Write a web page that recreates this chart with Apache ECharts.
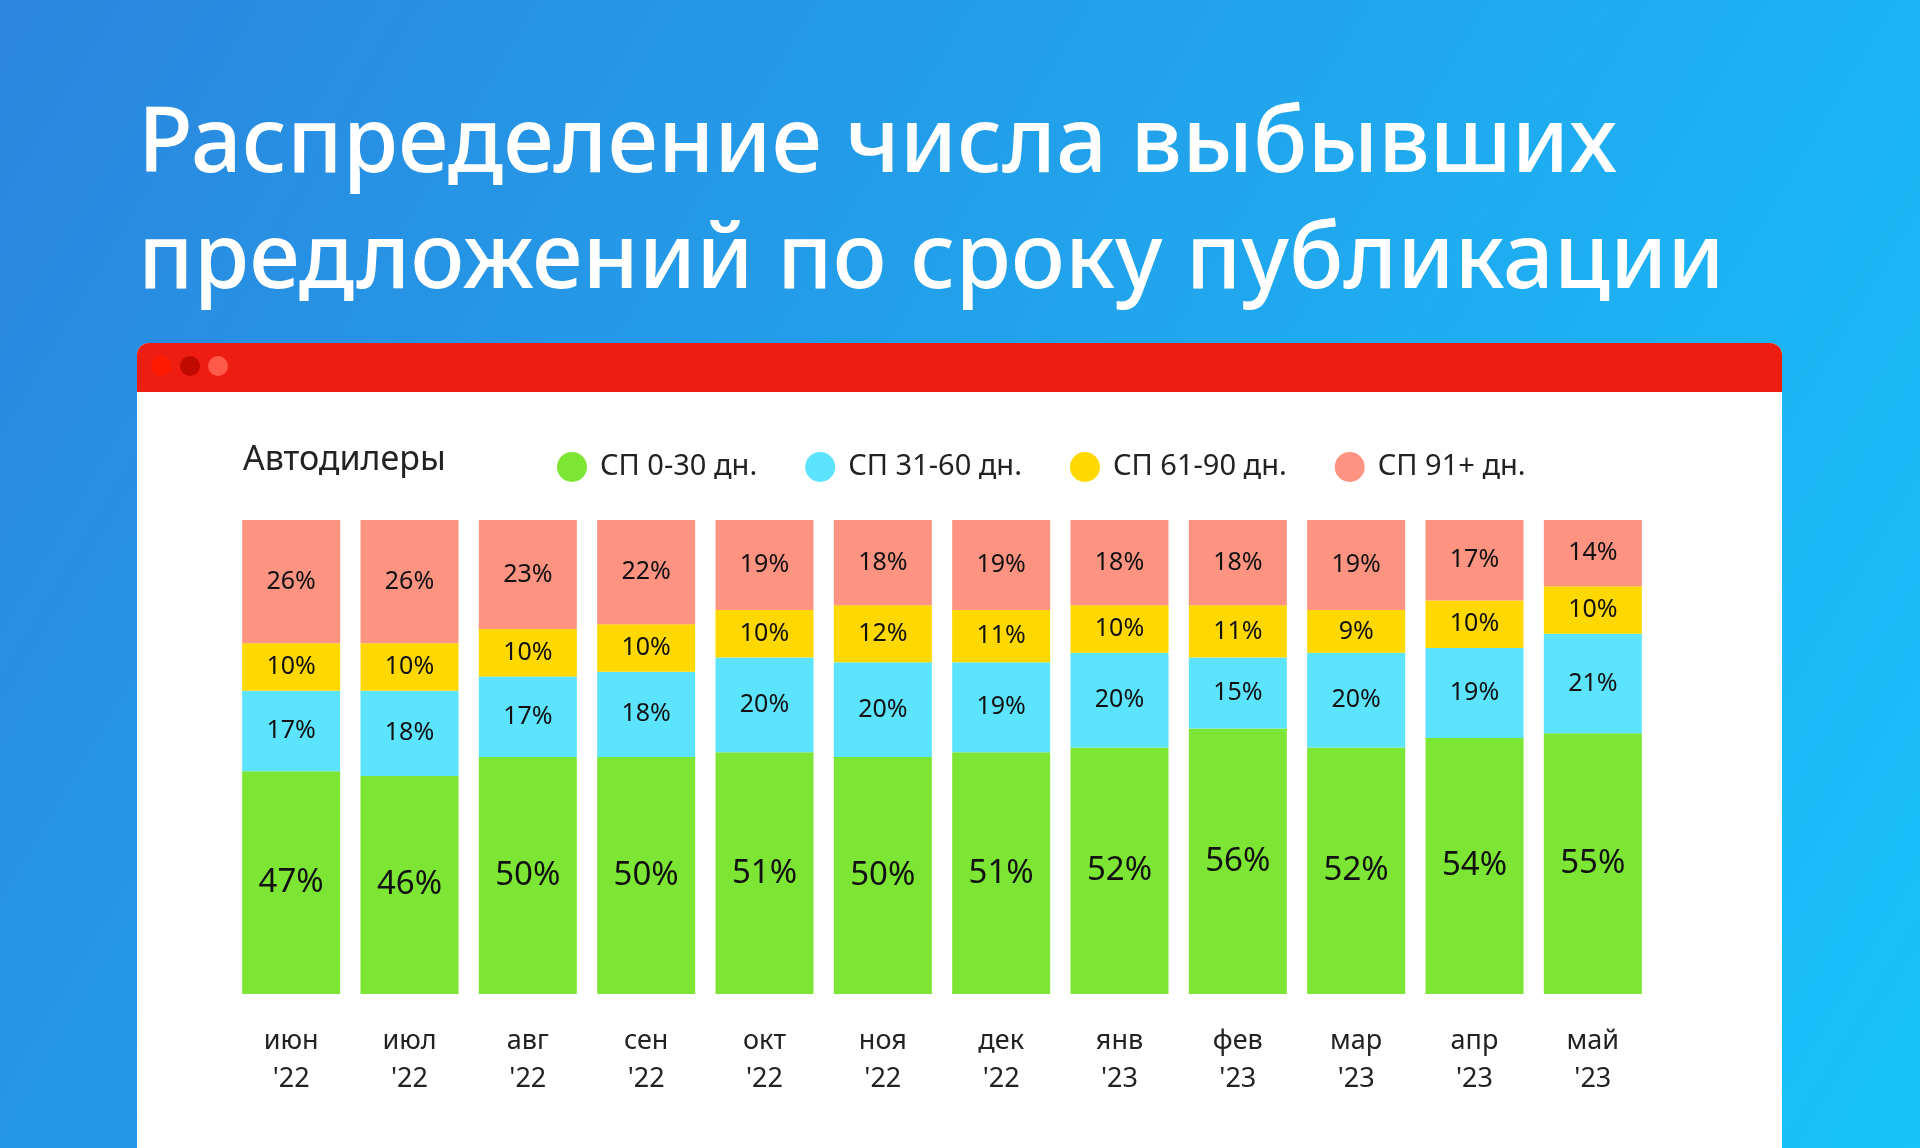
<!DOCTYPE html>
<html><head><meta charset="utf-8">
<script src="https://cdn.jsdelivr.net/npm/echarts@6/dist/echarts.min.js"></script>
<style>html,body{margin:0;padding:0}#c{width:1920px;height:1148px}</style>
</head><body><div id="c"></div>
<script>
const categories = ["июн\n'22","июл\n'22","авг\n'22","сен\n'22","окт\n'22","ноя\n'22","дек\n'22","янв\n'23","фев\n'23","мар\n'23","апр\n'23","май\n'23"];
const sp0_30 = [47,46,50,50,51,50,51,52,56,52,54,55];
const sp31_60 = [17,18,17,18,20,20,19,20,15,20,19,21];
const sp61_90 = [10,10,10,10,10,12,11,10,11,9,10,10];
const sp91 = [26,26,23,22,19,18,19,18,18,19,17,14];
const names = ['СП 0-30 дн.','СП 31-60 дн.','СП 61-90 дн.','СП 91+ дн.'];
const colors = ['#7de534','#5ce4ff','#ffd800','#fd9380'];
const font = 'Noto Sans';
const chart = echarts.init(document.getElementById('c'));
function s(i,data,fs){return {name:names[i],type:'bar',stack:'a',data:data,barWidth:98,
  itemStyle:{color:colors[i]},label:{show:true,position:'inside',color:'#111',fontFamily:font,fontSize:fs,formatter:'{c}%'}};}
chart.setOption({
  backgroundColor:{type:'linear',x:0,y:0,x2:1,y2:1,colorStops:[{offset:0,color:'#2b86de'},{offset:1,color:'#17c3fb'}]},
  graphic:[
    {type:'rect',z:-10,shape:{x:137,y:343,width:1645,height:820,r:[12,12,0,0]},style:{fill:'#ffffff'}},
    {type:'rect',z:-9,shape:{x:137,y:343,width:1645,height:49,r:[12,12,0,0]},style:{fill:'#ee1d12'}},
    {type:'circle',z:-8,shape:{cx:161,cy:366,r:10},style:{fill:'#ff1a00'}},
    {type:'circle',z:-8,shape:{cx:190,cy:366,r:10},style:{fill:'#c00a00'}},
    {type:'circle',z:-8,shape:{cx:218,cy:366,r:10},style:{fill:'#ff5a4a'}},
    {type:'text',left:138,top:88,style:{text:'Распределение числа выбывших\nпредложений по сроку публикации',fill:'#fff',font:'500 90px "Noto Sans"',lineHeight:116}},
    {type:'text',left:243,top:443,style:{text:'Автодилеры',fill:'#222',font:'34px "Noto Sans"'}}
  ],
  legend:{left:552,top:447,icon:'circle',itemWidth:30,itemHeight:30,itemGap:48,
    textStyle:{fontFamily:font,fontSize:29,color:'#222',padding:[0,0,0,8]},data:names},
  grid:{left:232,right:268,top:520,bottom:154},
  xAxis:{type:'category',data:categories,axisLine:{show:false},axisTick:{show:false},
    axisLabel:{color:'#222',fontFamily:font,fontSize:27,lineHeight:38,margin:28}},
  yAxis:{type:'value',min:0,max:100,show:false,splitLine:{show:false}},
  series:[s(0,sp0_30,33),s(1,sp31_60,25),s(2,sp61_90,25),s(3,sp91,25)]
});
</script></body></html>
